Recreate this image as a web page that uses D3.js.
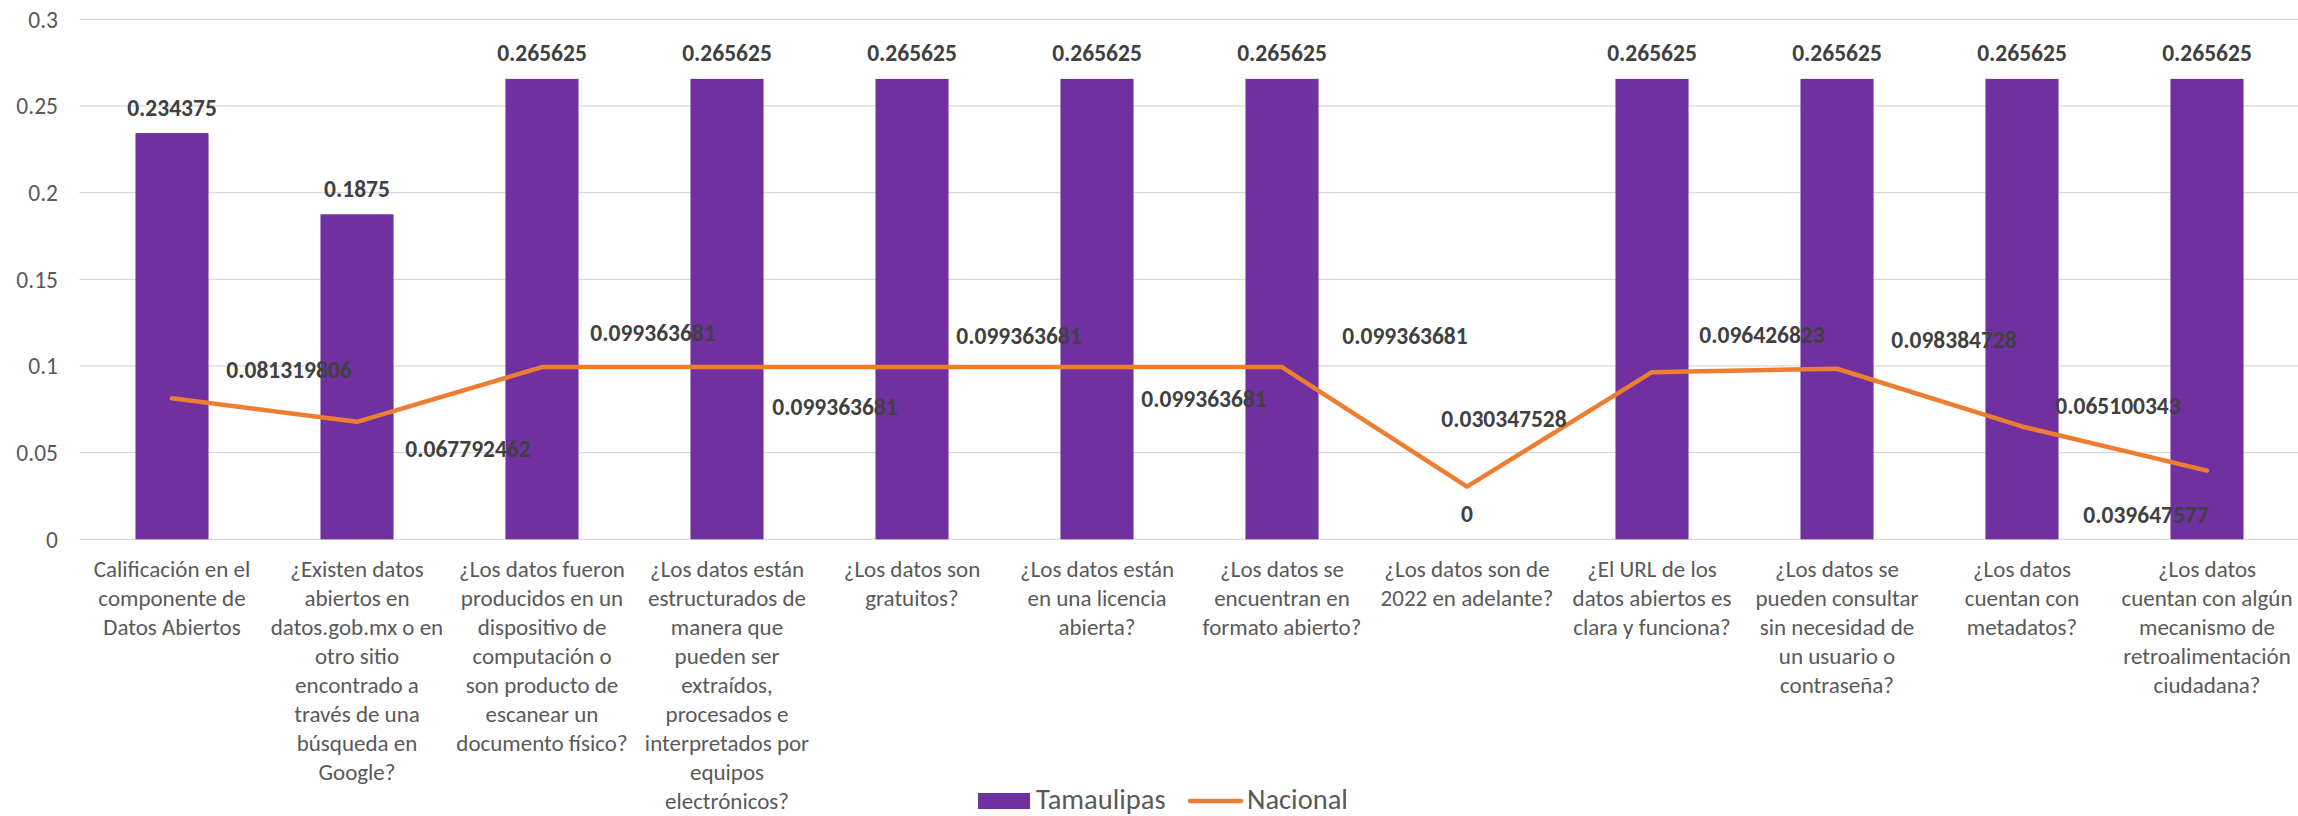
<!DOCTYPE html>
<html>
<head>
<meta charset="utf-8">
<script src="https://cdn.jsdelivr.net/npm/d3@7"></script>
<style>
  body { margin: 0; background: #fff; }
  svg { display: block; font-family: Carlito, Calibri, Lato, sans-serif; }
</style>
</head>
<body>
<svg id="chart" width="2298" height="816"></svg>
<script>
// categories, one line per entry as in the original axis
const categories = [
    ["Calificación en el", "componente de", "Datos Abiertos"],
    ["¿Existen datos", "abiertos en", "datos.gob.mx o en", "otro sitio", "encontrado a", "través de una", "búsqueda en", "Google?"],
    ["¿Los datos fueron", "producidos en un", "dispositivo de", "computación o", "son producto de", "escanear un", "documento físico?"],
    ["¿Los datos están", "estructurados de", "manera que", "pueden ser", "extraídos,", "procesados e", "interpretados por", "equipos", "electrónicos?"],
    ["¿Los datos son", "gratuitos?"],
    ["¿Los datos están", "en una licencia", "abierta?"],
    ["¿Los datos se", "encuentran en", "formato abierto?"],
    ["¿Los datos son de", "2022 en adelante?"],
    ["¿El URL de los", "datos abiertos es", "clara y funciona?"],
    ["¿Los datos se", "pueden consultar", "sin necesidad de", "un usuario o", "contraseña?"],
    ["¿Los datos", "cuentan con", "metadatos?"],
    ["¿Los datos", "cuentan con algún", "mecanismo de", "retroalimentación", "ciudadana?"]
];

const tamaulipas = [0.234375, 0.1875, 0.265625, 0.265625, 0.265625, 0.265625, 0.265625, 0, 0.265625, 0.265625, 0.265625, 0.265625];
const nacional = [0.081319806, 0.067792462, 0.099363681, 0.099363681, 0.099363681, 0.099363681, 0.099363681, 0.030347528, 0.096426823, 0.098384728, 0.065100343, 0.039647577];

const yTicks = [0, 0.05, 0.1, 0.15, 0.2, 0.25, 0.3];
const seriesNames = ["Tamaulipas", "Nacional"];

// where each Nacional label sits relative to its point (label centre, px)
const natLabelOffset = [[117,-29],[111,27],[111,-34],[108,40],[107,-31],[107,32],[123,-31],[37,-68],[110,-37],[117,-29],[96,-21],[-61,44]];

const purple = "#7030A0", orange = "#ED7D31";
const axisColor = "#595959", labelColor = "#404040";

const svg = d3.select("#chart");
const plotLeft = 79.5, plotRight = 2299.5, plotTop = 19.3, plotBottom = 539.3;

const x = d3.scaleBand()
    .domain(d3.range(categories.length))
    .range([plotLeft, plotRight])
    .paddingInner(0.605)
    .paddingOuter(0.3025);
const cx = i => x(i) + x.bandwidth() / 2;

const y = d3.scaleLinear().domain([0, 0.3]).range([plotBottom, plotTop]);

// gridlines
svg.append("g")
    .selectAll("line")
    .data(yTicks)
    .join("line")
    .attr("x1", plotLeft).attr("x2", 2298)
    .attr("y1", d => y(d)).attr("y2", d => y(d))
    .attr("stroke", "#d9d9d9")
    .attr("stroke-width", 1.3);

// y axis labels
svg.append("g")
    .selectAll("text")
    .data(yTicks)
    .join("text")
    .attr("x", 58)
    .attr("y", d => y(d))
    .attr("dy", "0.35em")
    .attr("text-anchor", "end")
    .attr("fill", axisColor)
    .style("font-size", "23.5px")
    .text(d => String(+d.toFixed(2)));

// bars
svg.append("g")
    .selectAll("rect")
    .data(tamaulipas)
    .join("rect")
    .attr("x", (d, i) => x(i))
    .attr("width", x.bandwidth())
    .attr("y", d => y(d))
    .attr("height", d => y(0) - y(d))
    .attr("fill", purple);

// line
const line = d3.line()
    .x((d, i) => cx(i))
    .y(d => y(d));

svg.append("path")
    .datum(nacional)
    .attr("d", line)
    .attr("fill", "none")
    .attr("stroke", orange)
    .attr("stroke-width", 4.5)
    .attr("stroke-linejoin", "round")
    .attr("stroke-linecap", "round");

// bar value labels
svg.append("g")
    .selectAll("text")
    .data(tamaulipas)
    .join("text")
    .attr("x", (d, i) => cx(i))
    .attr("y", d => y(d) - 17.5)
    .attr("text-anchor", "middle")
    .attr("fill", labelColor)
    .style("font-size", "23.5px")
    .style("font-weight", "bold")
    .text(d => String(d));

// line value labels
svg.append("g")
    .selectAll("text")
    .data(nacional)
    .join("text")
    .attr("x", (d, i) => cx(i) + natLabelOffset[i][0])
    .attr("y", (d, i) => y(d) + natLabelOffset[i][1])
    .attr("dy", "0.35em")
    .attr("text-anchor", "middle")
    .attr("fill", labelColor)
    .style("font-size", "23.5px")
    .style("font-weight", "bold")
    .text(d => String(d));

// category labels
const cat = svg.append("g")
    .selectAll("text")
    .data(categories)
    .join("text")
    .attr("text-anchor", "middle")
    .attr("fill", axisColor)
    .style("font-size", "23px")
    .attr("y", 577);

cat.selectAll("tspan")
    .data((d, i) => d.map(t => ({ t, i })))
    .join("tspan")
    .attr("x", d => cx(d.i))
    .attr("dy", (d, j) => j === 0 ? 0 : 29)
    .text(d => d.t);

// legend
const lg = svg.append("g").style("font-size", "28.5px").attr("fill", axisColor);
lg.append("rect").attr("x", 978).attr("y", 793).attr("width", 52).attr("height", 16).attr("fill", purple);
lg.append("text").attr("x", 1036).attr("y", 809).text(seriesNames[0]);
lg.append("line").attr("x1", 1190).attr("x2", 1241).attr("y1", 801).attr("y2", 801)
    .attr("stroke", orange).attr("stroke-width", 4.5).attr("stroke-linecap", "round");
lg.append("text").attr("x", 1247).attr("y", 809).text(seriesNames[1]);
</script>
</body>
</html>
